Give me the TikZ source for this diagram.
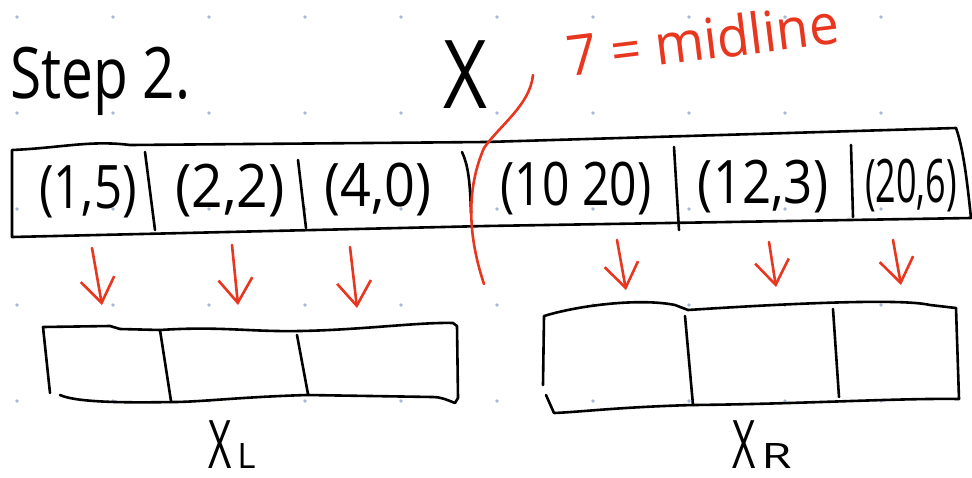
\documentclass[tikz,border=0pt]{standalone}
\usepackage{fontspec}
\setmainfont{Open Sans}
\usetikzlibrary{arrows.meta}
\definecolor{redink}{HTML}{E8361F}
\definecolor{dotc}{HTML}{A7B7D6}
\newcommand{\fsz}[1]{\fontsize{#1}{#1}\selectfont}
\begin{document}
\begin{tikzpicture}[x=1pt,y=-1pt, line cap=round, line join=round,
  stroke/.style={draw=black, line width=2.6pt},
  redstroke/.style={draw=redink, line width=2.6pt},
  redarrow/.style={redstroke, -{Straight Barb[length=24pt,width=34pt]}},
  txt/.style={inner sep=0pt, anchor=base, text=black},
  celltxt/.style={txt},
]
\useasboundingbox (0,0) rectangle (972,477);
\fill[white] (0,0) rectangle (972,477);
% dot grid
\foreach \i in {0,...,9}{\foreach \j in {0,...,4}{\fill[dotc] (17+96*\i,17+96*\j) circle (1.8pt);}}

% titles
\node[txt, anchor=base west] (step) at (10,98) {\fsz{71}\scalebox{0.8}[1]{Step 2.}};
\node[txt] (X) at (465,108) {\fsz{95}\scalebox{0.8}[1]{X}};
\node[txt, text=redink, rotate=7] (mid) at (705,60) {\fsz{56}\scalebox{0.95}[1]{7 = midline}};

% top array outline
\draw[stroke] (12,150) .. controls (60,148) and (90,140) .. (130,145) -- (486,142) -- (956,128)
  .. controls (964,150) and (968,190) .. (971,218) -- (486,226) -- (12,237) -- cycle;
\draw[stroke] (145,152) -- (155,230);
\draw[stroke] (298,160) -- (306,228);
\draw[stroke] (462,152) .. controls (468,165) and (470,180) .. (471,213);
\draw[stroke] (674,147) -- (679,230);
\draw[stroke] (851,145) -- (853,217);

% cell labels
\node[celltxt] (c1) at (88,208) {\fsz{60}\scalebox{0.82}[1]{(1,5)}};
\node[celltxt] (c2) at (230,207) {\fsz{60}\scalebox{0.92}[1]{(2,2)}};
\node[celltxt] (c3) at (378,206) {\fsz{60}\scalebox{0.9}[1]{(4,0)}};
\node[celltxt] (c4) at (576,205) {\fsz{60}\scalebox{0.8}[1]{(10 20)}};
\node[celltxt] (c5) at (763,203) {\fsz{60}\scalebox{0.85}[1]{(12,3)}};
\node[celltxt] (c6) at (911,202) {\fsz{60}\scalebox{0.6}[1]{(20,6)}};

% red midline curve
\coordinate (m1) at (533,75);
\coordinate (m2) at (484,148);
\coordinate (m3) at (484,284);
\draw[redstroke] (m1) .. controls (530,105) and (500,125) .. (m2)
  .. controls (468,185) and (466,230) .. (m3);

% arrows
\coordinate (a1s) at (92,248);  \coordinate (a1e) at (102,305);
\coordinate (a2s) at (232,245); \coordinate (a2e) at (238,305);
\coordinate (a3s) at (350,247); \coordinate (a3e) at (357,308);
\coordinate (a4s) at (617,240); \coordinate (a4e) at (626,290);
\coordinate (a5s) at (769,242); \coordinate (a5e) at (776,287);
\coordinate (a6s) at (893,240); \coordinate (a6e) at (901,285);
\foreach \k in {1,...,6}{\draw[redarrow] (a\k s) -- (a\k e);}

% bottom left box
\draw[stroke] (50,393) -- (43,327) -- (110,326) -- (120,329) -- (160,330)
  .. controls (220,326) and (250,332) .. (300,331) .. controls (360,330) and (420,322) .. (453,323)
  -- (457,326) -- (458,398) -- (455,403) .. controls (445,399) and (440,397) .. (433,397)
  -- (307,395) .. controls (240,397) and (200,402) .. (173,402) .. controls (120,403) and (75,402) .. (60,395);
\draw[stroke] (160,330) -- (171,401);
\draw[stroke] (297,335) -- (308,394);

% bottom right box
\draw[stroke] (543,385) -- (544,316) .. controls (580,305) and (640,298) .. (675,305) -- (688,310)
  .. controls (780,304) and (900,298) .. (930,305) -- (956,308) -- (959,399)
  .. controls (900,398) and (800,404) .. (693,405) .. controls (620,407) and (580,412) .. (554,413) -- (546,395);
\draw[stroke] (685,316) -- (693,405);
\draw[stroke] (833,309) -- (839,397);

% labels
\node[txt, anchor=base west] (XL) at (208,468) {\fsz{67}\scalebox{0.6}[1]{X}\hspace{6pt}\fsz{35}L};
\node[txt, anchor=base west] (XR) at (732,468) {\fsz{67}\scalebox{0.6}[1]{X}\hspace{6pt}\fsz{35}\scalebox{1.4}[1]{R}};
\end{tikzpicture}
\end{document}
